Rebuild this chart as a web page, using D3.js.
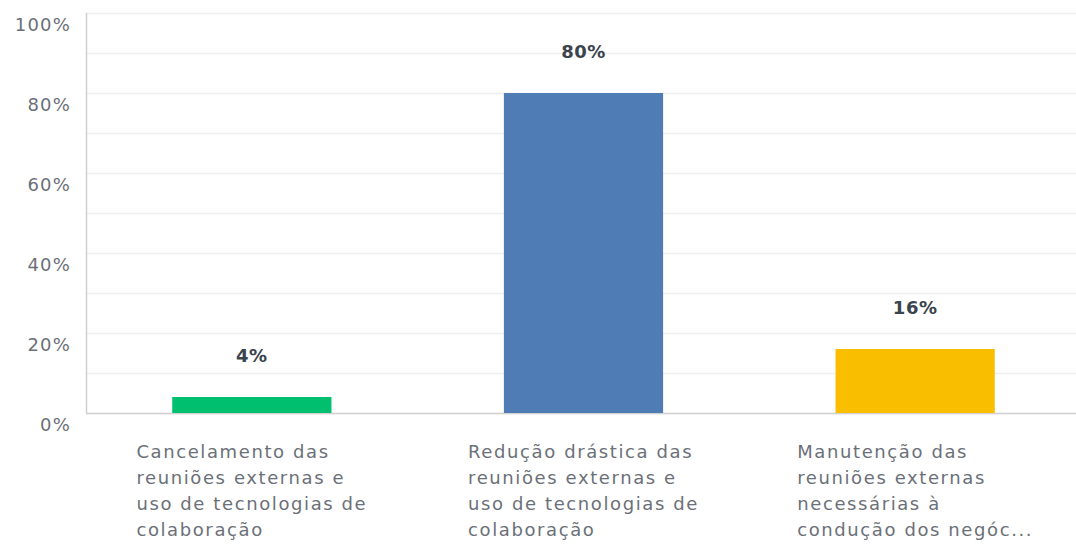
<!DOCTYPE html>
<html><head><meta charset="utf-8">
<script src="https://cdn.jsdelivr.net/npm/d3@7"></script>
<style>body{margin:0;background:#fff}svg{display:block}</style>
</head><body>
<svg id="c" width="1076" height="545"></svg>
<script>
const categories = [
  ["Cancelamento das","reuniões externas e","uso de tecnologias de","colaboração"],
  ["Redução drástica das","reuniões externas e","uso de tecnologias de","colaboração"],
  ["Manutenção das","reuniões externas","necessárias à","condução dos negóc..."]
];
const values = [4, 80, 16];
const colors = ["#00bf6f", "#507cb6", "#f9be00"];
const yTicks = [0, 20, 40, 60, 80, 100];
const gridTicks = [0,10,20,30,40,50,60,70,80,90,100];

const svg = d3.select("#c");
const m = {left: 86, right: 1081, top: 13, bottom: 413};
const x = d3.scaleBand().domain(d3.range(values.length)).range([m.left, m.right]).paddingInner(0.52).paddingOuter(0.26);
const y = d3.scaleLinear().domain([0, 100]).range([m.bottom, m.top]);
const font = "'DejaVu Sans', sans-serif";

svg.append("g").selectAll("line").data(gridTicks).join("line")
  .attr("x1", m.left).attr("x2", 1076)
  .attr("y1", d => y(d)+0.5).attr("y2", d => y(d)+0.5)
  .attr("stroke", "#eeeeee").attr("stroke-width", 1.5);

svg.append("line").attr("x1", m.left+0.5).attr("x2", m.left+0.5).attr("y1", m.top).attr("y2", m.bottom)
  .attr("stroke", "#d0d0d0").attr("stroke-width", 1.5);
svg.append("line").attr("x1", m.left).attr("x2", 1076).attr("y1", m.bottom+0.5).attr("y2", m.bottom+0.5)
  .attr("stroke", "#d0d0d0").attr("stroke-width", 1.5);

const yAxis = d3.axisLeft(y).tickValues(yTicks).tickFormat(d => d + "%").tickSize(0).tickPadding(15);
const ga = svg.append("g").attr("transform", `translate(${m.left},12)`).call(yAxis);
ga.select(".domain").remove();
ga.selectAll("text").attr("font-family", font).attr("font-size", 18).attr("letter-spacing", 1.2).attr("fill", "#6b7078");

svg.append("g").selectAll("rect").data(values).join("rect")
  .attr("x", (d,i) => x(i)).attr("width", x.bandwidth())
  .attr("y", d => y(d)).attr("height", d => y(0) - y(d))
  .attr("fill", (d,i) => colors[i]);

svg.append("g").selectAll("text").data(values).join("text")
  .attr("x", (d,i) => x(i) + x.bandwidth()/2).attr("y", d => y(d) - 35)
  .attr("text-anchor", "middle").attr("font-family", font).attr("font-size", 18).attr("font-weight", "bold")
  .attr("letter-spacing", 0.5).attr("fill", "#3b434c").text(d => d + "%");

const cg = svg.append("g");
categories.forEach((lines, i) => {
  const t = cg.append("text").attr("font-family", font).attr("font-size", 18).attr("letter-spacing", 1.6).attr("fill", "#6b7078");
  lines.forEach((l, j) => t.append("tspan").attr("x", 0).attr("y", 458 + j*26).text(l));
  const w = t.node().getBBox().width;
  t.attr("transform", `translate(${x(i) + x.bandwidth()/2 - w/2},0)`);
});
</script>
</body></html>
